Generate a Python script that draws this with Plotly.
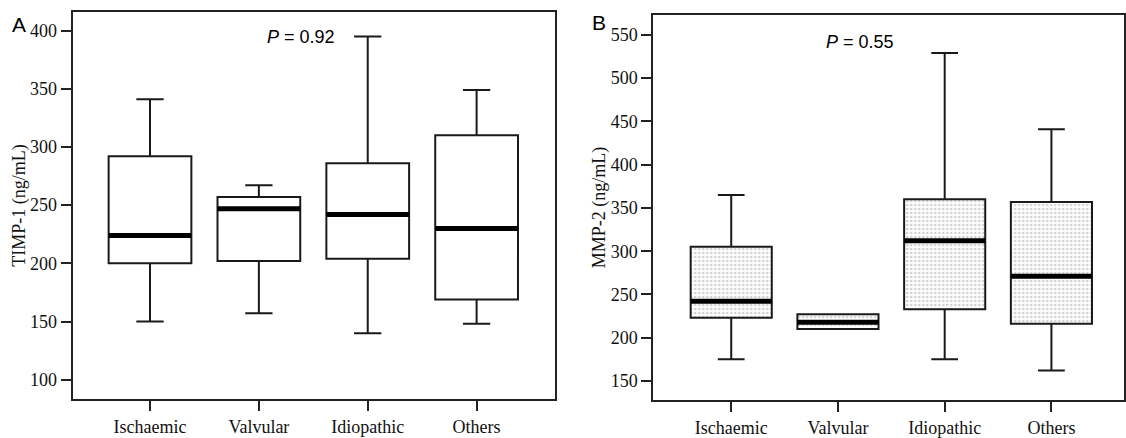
import plotly.graph_objects as go

# ---- data ----
categories = ["Ischaemic", "Valvular", "Idiopathic", "Others"]

timp_lower = [150, 157, 140, 148]
timp_q1 = [200, 202, 204, 169]
timp_median = [224, 247, 242, 230]
timp_q3 = [292, 257, 286, 310]
timp_upper = [341, 267, 395, 349]

mmp_lower = [175, 210, 175, 162]
mmp_q1 = [223, 210, 233, 216]
mmp_median = [242, 218, 312, 271]
mmp_q3 = [305, 227, 360, 357]
mmp_upper = [365, 227, 529, 441]

timp_ticks = [100, 150, 200, 250, 300, 350, 400]
mmp_ticks = [150, 200, 250, 300, 350, 400, 450, 500, 550]

W, H = 1126, 438
BOXW = 0.76
LINE = "#1a1a1a"
SERIF = "Liberation Serif, Times New Roman, serif"
SANS = "Liberation Sans, Arial, sans-serif"

pos = list(range(len(categories)))


def median_segments(meds):
    xs, ys = [], []
    for p, m in zip(pos, meds):
        xs += [p - BOXW / 2, p + BOXW / 2, None]
        ys += [m, m, None]
    return xs, ys


fig = go.Figure()

# Panel A
fig.add_trace(go.Box(
    x=pos, q1=timp_q1, median=timp_median, q3=timp_q3,
    lowerfence=timp_lower, upperfence=timp_upper,
    width=BOXW, whiskerwidth=0.33, boxpoints=False,
    fillcolor="white", line=dict(color=LINE, width=2),
    xaxis="x", yaxis="y", showlegend=False))
mx, my = median_segments(timp_median)
fig.add_trace(go.Scatter(x=mx, y=my, mode="lines", line=dict(color="black", width=5),
                         xaxis="x", yaxis="y", showlegend=False, hoverinfo="skip"))

# Panel B: patterned fill behind boxes
fig.add_trace(go.Bar(
    x=pos, base=mmp_q1, y=[q3 - q1 for q1, q3 in zip(mmp_q1, mmp_q3)],
    width=BOXW,
    marker=dict(color="white", line=dict(width=0),
                pattern=dict(shape=".", size=4, solidity=0.3, fgcolor="#a0a0a0", bgcolor="white")),
    xaxis="x2", yaxis="y2", showlegend=False, hoverinfo="skip"))
fig.add_trace(go.Box(
    x=pos, q1=mmp_q1, median=mmp_median, q3=mmp_q3,
    lowerfence=mmp_lower, upperfence=mmp_upper,
    width=BOXW, whiskerwidth=0.33, boxpoints=False,
    fillcolor="rgba(0,0,0,0)", line=dict(color=LINE, width=2),
    xaxis="x2", yaxis="y2", showlegend=False))
mx2, my2 = median_segments(mmp_median)
fig.add_trace(go.Scatter(x=mx2, y=my2, mode="lines", line=dict(color="black", width=5),
                         xaxis="x2", yaxis="y2", showlegend=False, hoverinfo="skip"))

axis_common = dict(showline=True, mirror=True, linecolor="#222", linewidth=2,
                   showgrid=False, zeroline=False, automargin=False,
                   ticks="outside", tickcolor="#222")


def ann(text, x, y, family, size):
    return dict(text=text, x=x / W, y=1 - y / H, xref="paper", yref="paper",
                xanchor="center", yanchor="middle", showarrow=False,
                font=dict(family=family, size=size, color="black"))


fig.update_layout(
    width=W, height=H,
    margin=dict(l=0, r=0, t=0, b=0),
    paper_bgcolor="white", plot_bgcolor="white",
    barmode="overlay",
    font=dict(family=SERIF, size=17, color="#111"),
    xaxis=dict(domain=[72.7 / W, 555 / W], range=[-0.71, 3.72],
               tickvals=pos, ticktext=categories, ticklen=10, tickwidth=2,
               tickfont=dict(family=SERIF, size=18), anchor="y", **axis_common),
    yaxis=dict(domain=[1 - 399 / H, 1 - 12 / H], range=[83.4, 416],
               tickvals=timp_ticks, ticklen=10, tickwidth=2,
               tickfont=dict(family=SERIF, size=18), anchor="x",
               title=dict(text="TIMP-1 (ng/mL)", font=dict(family=SERIF, size=18), standoff=0),
               **axis_common),
    xaxis2=dict(domain=[653.3 / W, 1124 / W], range=[-0.73, 3.68],
                tickvals=pos, ticktext=categories, ticklen=10, tickwidth=2,
                tickfont=dict(family=SERIF, size=18), anchor="y2", **axis_common),
    yaxis2=dict(domain=[1 - 400 / H, 1 - 15 / H], range=[128, 573],
                tickvals=mmp_ticks, ticklen=10, tickwidth=2,
                tickfont=dict(family=SERIF, size=18), anchor="x2",
                title=dict(text="MMP-2 (ng/mL)", font=dict(family=SERIF, size=18), standoff=0),
                **axis_common),
    annotations=[
        ann("A", 19, 24, SANS, 21),
        ann("B", 599, 22, SANS, 21),
        ann("<i>P</i> = 0.92", 301, 37, SANS, 18),
        ann("<i>P</i> = 0.55", 860, 42, SANS, 18),
    ],
)

fig.write_html("out.html", config={"displayModeBar": False},
               post_script="document.body.style.margin='0';document.body.style.overflow='hidden';")
